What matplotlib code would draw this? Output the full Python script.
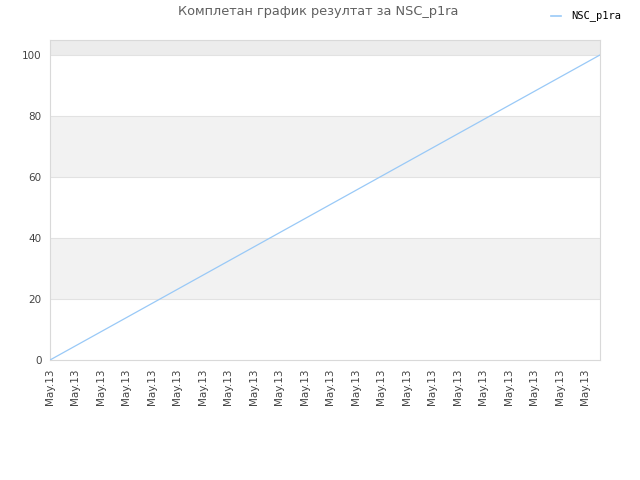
import matplotlib
matplotlib.use("Agg")
import matplotlib.pyplot as plt

# chart data
title = "Комплетан график резултат за NSC_p1ra"
series_name = "NSC_p1ra"
x_vals = [0, 21.57]
y_vals = [0, 100]
tick_pos = list(range(22))
tick_labels = ["May.13"] * 22
y_ticks = [0, 20, 40, 60, 80, 100]

fig = plt.figure(figsize=(6.4, 4.8), dpi=100)
ax = fig.add_axes([50 / 640, 120 / 480, 550 / 640, 320 / 480])

ax.set_xlim(0, 21.57)
ax.set_ylim(0, 104.9)

# alternating background bands
ax.axhspan(20, 40, color="#f2f2f2", zorder=0, lw=0)
ax.axhspan(60, 80, color="#f2f2f2", zorder=0, lw=0)
ax.axhspan(100, 104.9, color="#ececec", zorder=0, lw=0)
for y in y_ticks[1:]:
    ax.axhline(y, color="#e2e2e2", lw=0.8, zorder=1)

ax.plot(x_vals, y_vals, color="#99c9f7", lw=0.9, zorder=3)

ax.set_xticks(tick_pos)
ax.set_xticklabels(tick_labels, rotation=90, fontsize=7.5, color="#444444")
ax.set_yticks(y_ticks)
ax.set_yticklabels([str(v) for v in y_ticks], fontsize=7.5, color="#444444")
ax.tick_params(length=0, pad=6)

for s in ax.spines.values():
    s.set_color("#d9d9d9")
    s.set_linewidth(0.8)

fig.text(318 / 640, 1 - 12 / 480, title, ha="center", va="center",
         fontsize=9.3, color="#606060")

# legend
fig.add_artist(plt.Line2D([551 / 640, 561 / 640], [1 - 16 / 480] * 2,
                          color="#99c9f7", lw=1.2))
fig.text(571 / 640, 1 - 16 / 480, series_name, ha="left", va="center",
         fontsize=7.5, family="DejaVu Sans Mono", color="#000000")

fig.savefig("out.png", dpi=100)
